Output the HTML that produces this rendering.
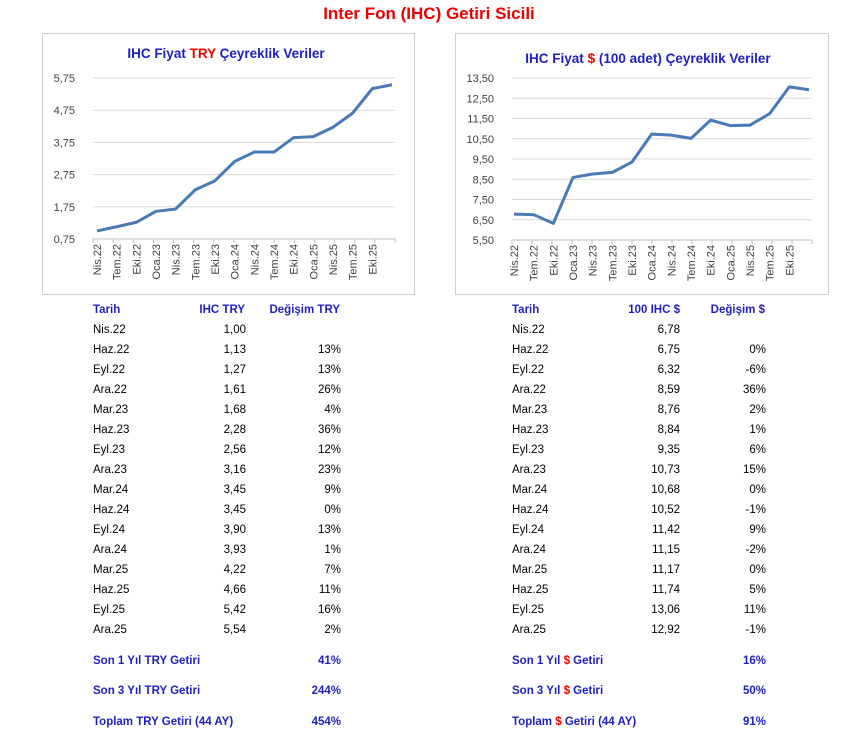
<!DOCTYPE html>
<html><head><meta charset="utf-8"><style>
body{margin:0;width:858px;height:743px;background:#fff;font-family:"Liberation Sans",sans-serif;position:relative;overflow:hidden}
.t{position:absolute;font-size:11.5px;color:#000;white-space:nowrap}
.h{color:#1f1fbf;font-weight:bold}
.r{text-align:right}
</style></head><body>
<div style="position:absolute;left:0;width:858px;top:4px;text-align:center;color:#e00;font-weight:bold;font-size:17px">Inter Fon (IHC) Getiri Sicili</div>
<svg width="858" height="300" style="position:absolute;left:0;top:0" font-family="Liberation Sans, sans-serif">
<rect x="42.5" y="33.5" width="372" height="261" fill="none" stroke="#d0d0d0"/>
<rect x="455.5" y="33.5" width="373" height="261" fill="none" stroke="#d0d0d0"/>
<text x="226" y="58" text-anchor="middle" font-size="13.5" font-weight="bold" fill="#1f1fbf">IHC Fiyat <tspan fill="#e00">TRY</tspan> Çeyreklik Veriler</text>
<text x="648" y="63" text-anchor="middle" font-size="13.5" font-weight="bold" fill="#1f1fbf">IHC Fiyat <tspan fill="#e00">$</tspan> (100 adet) Çeyreklik Veriler</text>
<g id="L"></g>
</svg>
<div id="c"></div>
<script>
var s=document.querySelector('svg'),ns='http://www.w3.org/2000/svg';
function el(t,a,txt){var e=document.createElementNS(ns,t);for(var k in a)e.setAttribute(k,a[k]);if(txt!=null)e.textContent=txt;s.appendChild(e);return e;}
var labs=['Nis.22','Tem.22','Eki.22','Oca.23','Nis.23','Tem.23','Eki.23','Oca.24','Nis.24','Tem.24','Eki.24','Oca.25','Nis.25','Tem.25','Eki.25'];
function chart(x0,x1,yTop,yBot,vMin,vMax,step,fmt,data,p0,p1){
 var n=Math.round((vMax-vMin)/step);
 for(var i=0;i<=n;i++){var y=yBot-(yBot-yTop)*i/n;
  if(i>0)el('line',{x1:x0,x2:x1,y1:y,y2:y,stroke:'#d9d9d9'});
  el('text',{x:x0-18,y:y+4,'text-anchor':'end','font-size':11,fill:'#404040'},(vMin+step*i).toFixed(2).replace('.',','));}
 el('line',{x1:x0,x2:x1,y1:yBot,y2:yBot,stroke:'#bfbfbf'});
 for(var i=0;i<=15;i++){var x=x0+(x1-x0)*i/15;el('line',{x1:x,x2:x,y1:yBot,y2:yBot+4,stroke:'#bfbfbf'});}
 for(var i=0;i<15;i++){var x=p0+(p1-p0)*i/15+4;el('text',{transform:'translate('+x+','+(yBot+5)+') rotate(-90)','text-anchor':'end','font-size':11,fill:'#404040'},labs[i]);}
 var pts=data.map(function(v,i){return (p0+(p1-p0)*i/15)+','+(yBot-(v-vMin)/(vMax-vMin)*(yBot-yTop));}).join(' ');
 el('polyline',{points:pts,fill:'none',stroke:'#4a7ab5','stroke-width':3,'stroke-linejoin':'round'});
}
var A=[1.00,1.13,1.27,1.61,1.68,2.28,2.56,3.16,3.45,3.45,3.90,3.93,4.22,4.66,5.42,5.54];
var B=[6.78,6.75,6.32,8.59,8.76,8.84,9.35,10.73,10.68,10.52,11.42,11.15,11.17,11.74,13.06,12.92];
chart(93,395,78,239,0.75,5.75,1,0,A,97,392);
chart(512,812,78,240,5.5,13.5,1,0,B,514,809);
var dates=['Nis.22','Haz.22','Eyl.22','Ara.22','Mar.23','Haz.23','Eyl.23','Ara.23','Mar.24','Haz.24','Eyl.24','Ara.24','Mar.25','Haz.25','Eyl.25','Ara.25'];
var cA=['','13%','13%','26%','4%','36%','12%','23%','9%','0%','13%','1%','7%','11%','16%','2%'];
var cB=['','0%','-6%','36%','2%','1%','6%','15%','0%','-1%','9%','-2%','0%','5%','11%','-1%'];
var h='';
function t(x,y,txt,cls,right){h+='<div class="t '+(cls||'')+'" style="top:'+(y-7)+'px;'+(right?'right:'+(858-x)+'px':'left:'+x+'px')+'">'+txt+'</div>';}
t(93,311,'Tarih','h');t(245,311,'IHC TRY','h',1);t(340,311,'Değişim TRY','h',1);
t(512,311,'Tarih','h');t(680,311,'100 IHC $','h',1);t(765,311,'Değişim $','h',1);
for(var i=0;i<16;i++){var y=331+20*i;
 t(93,y,dates[i]);t(246,y,A[i].toFixed(2).replace('.',','),'',1);t(341,y,cA[i],'',1);
 t(512,y,dates[i]);t(680,y,B[i].toFixed(2).replace('.',','),'',1);t(766,y,cB[i],'',1);}
var R='<span style="color:#e00">$</span>';
t(93,662,'Son 1 Yıl TRY Getiri','h');t(341,662,'41%','h',1);
t(93,692,'Son 3 Yıl TRY Getiri','h');t(341,692,'244%','h',1);
t(93,723,'Toplam TRY Getiri (44 AY)','h');t(341,723,'454%','h',1);
t(512,662,'Son 1 Yıl '+R+' Getiri','h');t(766,662,'16%','h',1);
t(512,692,'Son 3 Yıl '+R+' Getiri','h');t(766,692,'50%','h',1);
t(512,723,'Toplam '+R+' Getiri (44 AY)','h');t(766,723,'91%','h',1);
document.getElementById('c').innerHTML=h;
</script>
</body></html>
